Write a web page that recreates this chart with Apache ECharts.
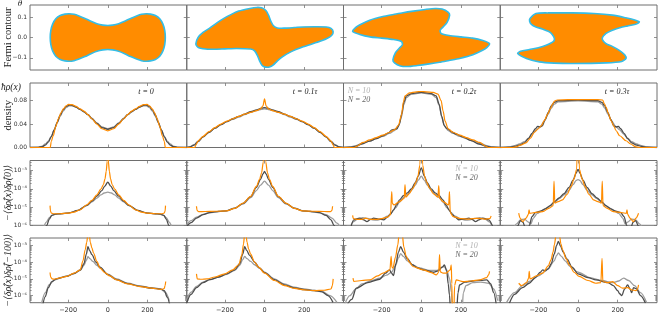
<!DOCTYPE html>
<html><head><meta charset="utf-8">
<script src="https://cdn.jsdelivr.net/npm/echarts@6/dist/echarts.min.js"></script>
<style>html,body{margin:0;padding:0;background:#fff}#c{width:659px;height:318px}</style>
</head><body><div id="c"></div><script>
// ---------------- tick labels ----------------
const xTicks = [-200, 0, 200];
const thetaTicks = [-0.1, 0, 0.1];
const densTicks = [0, 0.04, 0.08];
const logTicks = [-6, -5, -4, -3];
const logTickLabels = {'-6':'10⁻⁶','-5':'10⁻⁵','-4':'10⁻⁴','-3':'10⁻³'};
const timeLabels = ['t = 0', 't = 0.1τ', 't = 0.2τ', 't = 0.3τ'];
const rowTitles = ['Fermi contour', 'density', '−⟨δρ̂(x)δρ̂(0)⟩', '−⟨δρ̂(x)δρ̂(−100)⟩'];
const legendNames = ['N = 10', 'N = 20'];

// ---------------- row 1: Fermi contours [x, theta] ----------------
const contour1 = [[-290,0],[-287,0.035],[-278,0.066],[-262,0.092],[-240,0.108],[-215,0.115],[-195,0.117],[-170,0.114],[-145,0.106],[-115,0.094],[-85,0.080],[-55,0.068],[-25,0.061],[0,0.059],[25,0.061],[55,0.068],[85,0.080],[115,0.094],[145,0.106],[170,0.114],[195,0.117],[215,0.115],[240,0.108],[262,0.092],[278,0.066],[287,0.035],[290,0],[287,-0.035],[278,-0.066],[262,-0.092],[240,-0.108],[215,-0.115],[195,-0.117],[170,-0.114],[145,-0.106],[115,-0.094],[85,-0.080],[55,-0.068],[25,-0.061],[0,-0.059],[-25,-0.061],[-55,-0.068],[-85,-0.080],[-115,-0.094],[-145,-0.106],[-170,-0.114],[-195,-0.117],[-215,-0.115],[-240,-0.108],[-262,-0.092],[-278,-0.066],[-287,-0.035]];
const contour2 = [[-346,-0.03],[-335,0.0],[-310,0.025],[-275,0.047],[-240,0.072],[-205,0.094],[-175,0.11],[-130,0.13],[-74,0.143],[-40,0.148],[-15,0.146],[8,0.132],[20,0.11],[32,0.08],[45,0.058],[65,0.047],[100,0.046],[150,0.049],[193,0.052],[250,0.053],[312,0.052],[335,0.045],[346,0.028],[338,0.01],[312,-0.006],[260,-0.025],[195,-0.046],[130,-0.072],[90,-0.095],[65,-0.115],[43,-0.136],[25,-0.145],[5,-0.146],[-12,-0.138],[-25,-0.115],[-35,-0.09],[-50,-0.066],[-70,-0.057],[-141,-0.054],[-200,-0.056],[-259,-0.058],[-310,-0.055],[-334,-0.049],[-343,-0.04]];
const contour3 = [[-346,0.03],[-330,0.05],[-309,0.063],[-260,0.085],[-193,0.103],[-140,0.113],[-92,0.122],[-40,0.13],[20,0.138],[70,0.143],[105,0.14],[135,0.125],[143,0.11],[130,0.075],[110,0.052],[95,0.035],[100,0.02],[140,0.01],[200,0.003],[258,-0.003],[310,-0.015],[344,-0.03],[330,-0.05],[309,-0.063],[260,-0.085],[193,-0.103],[140,-0.113],[92,-0.122],[40,-0.13],[-20,-0.138],[-70,-0.143],[-105,-0.14],[-135,-0.125],[-143,-0.11],[-130,-0.075],[-110,-0.052],[-95,-0.035],[-100,-0.02],[-140,-0.01],[-200,-0.003],[-258,0.003],[-310,0.015]];
const contour4 = [[-242,0.094],[-212,0.118],[-150,0.121],[-29,0.121],[80,0.118],[173,0.110],[240,0.097],[290,0.085],[309,0.077],[290,0.065],[250,0.057],[223,0.052],[170,0.035],[141,0.020],[122,-0.005],[141,-0.030],[175,-0.045],[208,-0.063],[235,-0.085],[242,-0.103],[220,-0.118],[141,-0.125],[-29,-0.128],[-120,-0.126],[-195,-0.120],[-260,-0.103],[-304,-0.079],[-290,-0.068],[-245,-0.059],[-200,-0.05],[-161,-0.038],[-125,-0.02],[-119,-0.005],[-130,0.015],[-145,0.028],[-180,0.042],[-212,0.052],[-235,0.065],[-244,0.08]];

// ---------------- row 2: density [x, rho] ----------------
const dens1_exact = [[-392,0],[-300,0],[-290,0],[-285,0.010],[-275,0.020],[-262,0.036],[-249,0.049],[-236,0.059],[-224,0.066],[-210,0.071],[-198,0.0735],[-180,0.073],[-160,0.070],[-140,0.066],[-120,0.062],[-100,0.056],[-80,0.049],[-55,0.040],[-30,0.032],[0,0.0285],[30,0.032],[55,0.040],[80,0.049],[100,0.056],[120,0.062],[140,0.066],[160,0.070],[180,0.073],[198,0.0735],[210,0.071],[224,0.066],[236,0.059],[249,0.049],[262,0.036],[275,0.020],[285,0.010],[290,0],[300,0],[398,0]];
const dens1_n20 = [[-392,0],[-350,0.0003],[-330,0.0015],[-315,0.004],[-300,0.009],[-285,0.018],[-270,0.030],[-255,0.043],[-240,0.055],[-225,0.064],[-210,0.070],[-195,0.0725],[-180,0.072],[-160,0.069],[-140,0.065],[-120,0.061],[-100,0.056],[-80,0.049],[-55,0.041],[-30,0.034],[0,0.031],[30,0.034],[55,0.041],[80,0.049],[100,0.056],[120,0.061],[140,0.065],[160,0.069],[180,0.072],[195,0.0725],[210,0.070],[225,0.064],[240,0.055],[255,0.043],[270,0.030],[285,0.018],[300,0.009],[315,0.004],[330,0.0015],[350,0.0003],[398,0]];
const dens1_n10 = [[-392,0],[-350,0.0008],[-330,0.0025],[-315,0.006],[-300,0.011],[-285,0.019],[-270,0.030],[-255,0.042],[-240,0.053],[-225,0.062],[-210,0.068],[-195,0.071],[-180,0.071],[-160,0.069],[-140,0.065],[-120,0.061],[-100,0.056],[-80,0.050],[-55,0.042],[-30,0.035],[0,0.032],[30,0.035],[55,0.042],[80,0.050],[100,0.056],[120,0.061],[140,0.065],[160,0.069],[180,0.071],[195,0.071],[210,0.068],[225,0.062],[240,0.053],[255,0.042],[270,0.030],[285,0.019],[300,0.011],[315,0.006],[330,0.0025],[350,0.0008],[398,0]];

const dens2_exact = [[-392,0],[-352,0],[-346,0.004],[-335,0.011],[-310,0.019],[-280,0.027],[-250,0.034],[-220,0.040],[-190,0.045],[-160,0.049],[-130,0.053],[-100,0.057],[-70,0.060],[-40,0.063],[-20,0.066],[-8,0.071],[0,0.083],[8,0.071],[20,0.066],[40,0.063],[70,0.060],[100,0.057],[130,0.053],[160,0.049],[190,0.045],[220,0.040],[250,0.034],[280,0.027],[310,0.019],[335,0.011],[346,0.004],[352,0],[398,0]];
const dens2_n20 = [[-392,0],[-375,0.001],[-355,0.004],[-335,0.010],[-310,0.018],[-280,0.026],[-250,0.033],[-220,0.039],[-190,0.044],[-160,0.049],[-130,0.053],[-100,0.057],[-70,0.061],[-40,0.064],[-15,0.067],[0,0.068],[15,0.067],[40,0.064],[70,0.061],[100,0.057],[130,0.053],[160,0.049],[190,0.044],[220,0.039],[250,0.033],[280,0.026],[310,0.018],[335,0.010],[355,0.004],[375,0.001],[398,0]];
const dens2_n10 = [[-392,0.0003],[-375,0.0015],[-355,0.005],[-335,0.011],[-310,0.018],[-280,0.026],[-250,0.033],[-220,0.039],[-190,0.044],[-160,0.048],[-130,0.052],[-100,0.056],[-70,0.060],[-40,0.063],[-15,0.065],[0,0.066],[15,0.065],[40,0.063],[70,0.060],[100,0.056],[130,0.052],[160,0.048],[190,0.044],[220,0.039],[250,0.033],[280,0.026],[310,0.018],[335,0.011],[355,0.005],[375,0.0015],[398,0.0003]];

const dens3_exact = [[-392,0],[-340,0],[-325,0.002],[-294,0.0086],[-260,0.013],[-227,0.017],[-194,0.021],[-160,0.026],[-135,0.030],[-115,0.038],[-100,0.055],[-90,0.078],[-82,0.088],[-60,0.093],[-25,0.095],[0,0.0955],[25,0.095],[60,0.094],[84,0.091],[100,0.080],[110,0.062],[120,0.045],[135,0.032],[160,0.026],[194,0.021],[227,0.017],[260,0.013],[294,0.0086],[325,0.002],[340,0],[398,0]];
const dens3_n20 = [[-392,0],[-360,0.0005],[-330,0.002],[-300,0.006],[-260,0.011],[-227,0.015],[-194,0.020],[-165,0.025],[-148,0.030],[-135,0.031],[-122,0.032],[-110,0.040],[-98,0.058],[-88,0.077],[-75,0.088],[-50,0.092],[0,0.094],[50,0.092],[75,0.088],[90,0.074],[103,0.053],[115,0.038],[126,0.033],[138,0.031],[150,0.027],[175,0.023],[210,0.018],[250,0.012],[290,0.006],[330,0.002],[360,0.0005],[398,0]];
const dens3_n10 = [[-392,0],[-360,0.001],[-330,0.003],[-300,0.007],[-260,0.011],[-227,0.015],[-194,0.019],[-160,0.024],[-135,0.029],[-115,0.036],[-100,0.052],[-88,0.073],[-75,0.085],[-50,0.091],[0,0.093],[50,0.091],[75,0.085],[90,0.072],[103,0.052],[118,0.036],[135,0.029],[160,0.024],[194,0.019],[227,0.015],[260,0.011],[300,0.007],[330,0.003],[360,0.001],[398,0]];

const dens4_exact = [[-392,0],[-330,0],[-312,0.001],[-290,0.004],[-262,0.008],[-240,0.016],[-220,0.026],[-200,0.032],[-186,0.037],[-170,0.046],[-153,0.057],[-140,0.066],[-128,0.074],[-119,0.079],[-105,0.081],[-50,0.0815],[0,0.0815],[50,0.0815],[100,0.0815],[124,0.081],[132,0.075],[141,0.069],[153,0.058],[166,0.046],[180,0.037],[191,0.029],[210,0.020],[242,0.0115],[265,0.006],[292,0.001],[310,0],[398,0]];
const dens4_n20 = [[-392,0],[-345,0.0005],[-320,0.002],[-295,0.004],[-270,0.008],[-250,0.015],[-232,0.024],[-215,0.032],[-203,0.036],[-192,0.035],[-180,0.037],[-165,0.048],[-150,0.060],[-135,0.071],[-120,0.077],[-100,0.080],[0,0.081],[100,0.080],[120,0.077],[135,0.071],[150,0.060],[165,0.048],[180,0.037],[192,0.035],[203,0.036],[215,0.032],[232,0.024],[250,0.015],[270,0.008],[295,0.004],[320,0.002],[345,0.0005],[398,0]];
const dens4_n10 = [[-392,0],[-350,0.001],[-320,0.003],[-295,0.006],[-270,0.010],[-250,0.016],[-230,0.023],[-210,0.030],[-190,0.036],[-170,0.045],[-150,0.057],[-135,0.067],[-120,0.074],[-100,0.078],[0,0.0795],[100,0.078],[120,0.074],[135,0.067],[150,0.057],[170,0.045],[190,0.036],[210,0.030],[230,0.023],[250,0.016],[270,0.010],[295,0.006],[320,0.003],[350,0.001],[398,0]];

// ---------------- row 3: -<drho(x) drho(0)> [x, value] ----------------
const corr0_1_exact = [[-291,1.2e-5],[-289,6e-6],[-284,4.6e-6],[-270,4.3e-6],[-240,4.3e-6],[-200,4.6e-6],[-170,5.3e-6],[-140,7e-6],[-106,1.3e-5],[-80,2.3e-5],[-55,4.7e-5],[-35,9.5e-5],[-22,1.7e-4],[-14,3.5e-4],[-8,9e-4],[-3,3e-3],[0,1],[3,3e-3],[8,9e-4],[14,3.5e-4],[22,1.7e-4],[35,9.5e-5],[55,4.7e-5],[80,2.3e-5],[106,1.3e-5],[140,7e-6],[170,5.3e-6],[200,4.6e-6],[240,4.3e-6],[270,4.3e-6],[284,4.6e-6],[289,6e-6],[291,1.2e-5]];
const corr0_1_n20 = [[-340,2e-7],[-320,6e-7],[-307,1e-6],[-295,2.2e-6],[-282,3.5e-6],[-265,4.1e-6],[-240,4.3e-6],[-200,4.7e-6],[-150,6.5e-6],[-106,1.25e-5],[-80,2.1e-5],[-55,4e-5],[-30,8e-5],[-15,1.4e-4],[0,2.3e-4],[15,1.4e-4],[30,8e-5],[55,4e-5],[80,2.1e-5],[106,1.25e-5],[150,6.5e-6],[200,4.7e-6],[240,4.3e-6],[265,4.1e-6],[282,3.5e-6],[295,2.2e-6],[307,1e-6],[320,6e-7],[340,2e-7]];
const corr0_1_n10 = [[-345,3e-7],[-325,8e-7],[-310,1.5e-6],[-295,2.6e-6],[-280,3.6e-6],[-260,4.1e-6],[-230,4.3e-6],[-190,4.9e-6],[-150,6.5e-6],[-106,1.2e-5],[-80,1.9e-5],[-55,3.1e-5],[-35,4.6e-5],[-18,5.9e-5],[0,6.5e-5],[18,5.9e-5],[35,4.6e-5],[55,3.1e-5],[80,1.9e-5],[106,1.2e-5],[150,6.5e-6],[190,4.9e-6],[230,4.3e-6],[260,4.1e-6],[280,3.6e-6],[295,2.6e-6],[310,1.5e-6],[325,8e-7],[345,3e-7]];

const corr0_2_exact = [[-343,1.1e-5],[-340,6.5e-6],[-332,5.6e-6],[-300,5.7e-6],[-250,5.9e-6],[-192,6.2e-6],[-150,8.5e-6],[-108,1.65e-5],[-70,3.8e-5],[-41,1.35e-4],[-25,3.3e-4],[-15,7.4e-4],[-6,3e-3],[0,1],[6,3e-3],[15,7.4e-4],[25,3.3e-4],[41,1.35e-4],[70,3.8e-5],[108,1.65e-5],[150,8.5e-6],[192,6.2e-6],[250,5.9e-6],[300,5.7e-6],[332,5.6e-6],[340,6.5e-6],[343,1.1e-5]];
const corr0_2_n20 = [[-395,8e-7],[-370,1.4e-6],[-343,2.5e-6],[-310,3.8e-6],[-276,5e-6],[-230,5.8e-6],[-192,6.2e-6],[-150,8.8e-6],[-108,1.6e-5],[-70,3.7e-5],[-41,1.2e-4],[-20,3.3e-4],[-8,6.5e-4],[0,9e-4],[8,6.5e-4],[20,3.3e-4],[41,1.2e-4],[70,3.7e-5],[108,1.6e-5],[150,8.8e-6],[192,6.2e-6],[230,5.8e-6],[276,5e-6],[310,3.5e-6],[335,2e-6],[350,1e-6],[362,5e-7]];
const corr0_2_n10 = [[-395,1e-6],[-370,1.8e-6],[-343,2.8e-6],[-310,4e-6],[-276,5e-6],[-230,5.7e-6],[-192,6.2e-6],[-150,8.5e-6],[-108,1.5e-5],[-70,3.3e-5],[-41,8e-5],[-20,1.6e-4],[0,2.6e-4],[20,1.6e-4],[41,8e-5],[70,3.3e-5],[108,1.5e-5],[150,8.5e-6],[192,6.2e-6],[230,5.7e-6],[276,5e-6],[310,3.8e-6],[340,2.5e-6],[365,1.3e-6],[387,6e-7]];

const corr0_3_exact = [[-346,3.5e-6],[-342,2.3e-6],[-320,2.1e-6],[-300,2.1e-6],[-280,2.5e-6],[-260,2.1e-6],[-230,2.1e-6],[-200,2.3e-6],[-170,2.8e-6],[-155,3.8e-6],[-149,7e-5],[-146,1.6e-5],[-138,1.3e-5],[-110,2e-5],[-86,3e-5],[-82,1.7e-4],[-78,3.5e-5],[-60,5.5e-5],[-42,1.1e-4],[-25,2.5e-4],[-17,4.9e-4],[-7,2e-3],[0,1],[7,2e-3],[17,4.9e-4],[25,2.5e-4],[42,1.1e-4],[60,5.5e-5],[84,3.5e-5],[88,1.5e-4],[92,3e-5],[110,2e-5],[138,1.3e-5],[142,7e-5],[146,5e-6],[160,3e-6],[200,2.3e-6],[240,2.2e-6],[280,2.4e-6],[320,2.2e-6],[345,2.3e-6],[352,3.2e-6]];
const corr0_3_n20 = [[-355,8e-7],[-340,2e-6],[-311,2.5e-6],[-290,2e-6],[-274,1.6e-6],[-255,2.1e-6],[-240,2.5e-6],[-215,2.2e-6],[-190,2e-6],[-170,2.8e-6],[-155,4e-6],[-140,7e-6],[-125,1.3e-5],[-109,2.5e-5],[-90,4.2e-5],[-70,6e-5],[-50,1e-4],[-30,2.2e-4],[-15,5e-4],[0,1.4e-3],[15,5e-4],[30,2.2e-4],[50,1e-4],[70,6e-5],[90,4.2e-5],[109,2.5e-5],[125,1.3e-5],[140,7e-6],[155,4e-6],[170,2.8e-6],[190,2e-6],[215,2.2e-6],[240,2.5e-6],[255,2.1e-6],[274,1.6e-6],[290,2e-6],[311,2.5e-6],[340,2e-6],[361,8e-7]];
const corr0_3_n10 = [[-360,6e-7],[-345,1.5e-6],[-320,2.2e-6],[-295,2.6e-6],[-270,2.4e-6],[-245,2e-6],[-220,1.9e-6],[-195,2.3e-6],[-170,3.2e-6],[-150,5e-6],[-130,9e-6],[-110,1.8e-5],[-90,3.3e-5],[-70,5e-5],[-50,8e-5],[-30,1.6e-4],[-15,3e-4],[0,4.9e-4],[15,3e-4],[30,1.6e-4],[50,8e-5],[70,5e-5],[90,3.3e-5],[110,1.8e-5],[130,9e-6],[150,5e-6],[170,3.2e-6],[195,2.3e-6],[220,1.9e-6],[245,2e-6],[270,2.4e-6],[295,2.6e-6],[320,2.2e-6],[345,1.5e-6],[360,6e-7]];

const corr0_4_exact = [[-299,4.6e-6],[-292,2.5e-6],[-279,1.6e-6],[-262,2.5e-6],[-250,4e-6],[-247,7e-6],[-243,4.5e-6],[-220,5e-6],[-178,5.6e-6],[-145,8.7e-6],[-125,1.2e-5],[-121,2.6e-4],[-117,1.65e-5],[-100,2e-5],[-78,2.5e-5],[-55,5e-5],[-35,1.35e-4],[-20,3.5e-4],[-7,1.15e-3],[0,1],[7,1.15e-3],[20,3.5e-4],[35,1.35e-4],[55,5e-5],[78,2.5e-5],[100,2e-5],[118,1.65e-5],[122,2.6e-4],[126,1.2e-5],[145,8.7e-6],[178,5.6e-6],[220,5e-6],[243,4.5e-6],[247,7e-6],[250,4e-6],[262,2.5e-6],[279,1.6e-6],[292,2.5e-6],[305,4.6e-6]];
const corr0_4_n20 = [[-320,5e-7],[-305,9e-7],[-290,1.8e-6],[-278,1.5e-6],[-265,7e-7],[-255,4e-7],[-245,1e-6],[-232,3e-6],[-215,5e-6],[-190,6e-6],[-165,8e-6],[-140,1.2e-5],[-118,2e-5],[-95,3.2e-5],[-70,5.5e-5],[-45,1.2e-4],[-25,3e-4],[-10,7e-4],[0,1.15e-3],[10,7e-4],[25,3e-4],[45,1.2e-4],[70,5.5e-5],[95,3.2e-5],[118,2e-5],[140,1.2e-5],[165,8e-6],[190,6e-6],[215,5e-6],[232,3e-6],[245,1e-6],[255,4e-7],[265,7e-7],[278,1.5e-6],[290,1.8e-6],[305,9e-7],[320,5e-7]];
const corr0_4_n10 = [[-330,5e-7],[-310,1.2e-6],[-290,2e-6],[-270,2.2e-6],[-250,1.5e-6],[-238,1.2e-6],[-225,2.5e-6],[-205,4.5e-6],[-180,6.5e-6],[-150,1e-5],[-120,1.8e-5],[-95,2.9e-5],[-70,4.6e-5],[-45,8.5e-5],[-25,1.7e-4],[-10,2.8e-4],[0,3.2e-4],[10,2.8e-4],[25,1.7e-4],[45,8.5e-5],[70,4.6e-5],[95,2.9e-5],[120,1.8e-5],[150,1e-5],[180,6.5e-6],[205,4.5e-6],[225,2.5e-6],[238,1.2e-6],[250,1.5e-6],[270,2.2e-6],[290,2e-6],[310,1.2e-6],[330,5e-7]];

// ---------------- row 4: -<drho(x) drho(-100)> [x, value] ----------------
const corrM_1_exact = [[-291,2.4e-5],[-288,1.3e-5],[-280,1e-5],[-270,9.6e-6],[-240,1.15e-5],[-207,1.4e-5],[-170,2.2e-5],[-139,3.5e-5],[-125,1.2e-4],[-114,5.5e-4],[-106,1.5e-3],[-100,5e-3],[-97,1],[-94,5e-3],[-88,1.5e-3],[-80,7e-4],[-72,3.5e-4],[-55,1.1e-4],[-39,4.4e-5],[-15,2.4e-5],[10,1.5e-5],[45,8.7e-6],[100,5e-6],[163,3.5e-6],[220,2.8e-6],[270,2.4e-6],[284,2.6e-6],[289,4e-6],[292,7e-6]];
const corrM_1_n20 = [[-330,2e-7],[-315,8.7e-7],[-300,3e-6],[-282,6.9e-6],[-260,1e-5],[-207,1.4e-5],[-170,2.1e-5],[-139,3.4e-5],[-120,8e-5],[-108,3e-4],[-100,8.5e-4],[-92,5e-4],[-80,2.8e-4],[-60,1e-4],[-39,5e-5],[0,1.8e-5],[45,9e-6],[100,5.2e-6],[163,3.6e-6],[220,2.8e-6],[270,2.4e-6],[285,2e-6],[300,8e-7],[315,2e-7]];
const corrM_1_n10 = [[-335,3e-7],[-315,1.5e-6],[-295,4.5e-6],[-270,8.5e-6],[-240,1.2e-5],[-207,1.5e-5],[-170,2.1e-5],[-139,3.2e-5],[-120,6.5e-5],[-108,1.3e-4],[-100,2.1e-4],[-90,1.6e-4],[-75,1.1e-4],[-55,6.5e-5],[-39,4.5e-5],[0,1.9e-5],[45,1e-5],[100,5.6e-6],[163,3.8e-6],[220,3e-6],[265,2.6e-6],[290,1.6e-6],[310,5e-7]];

const corrM_2_exact = [[-343,2e-5],[-339,1e-5],[-320,9.5e-6],[-290,1e-5],[-250,1.3e-5],[-200,2e-5],[-160,3.5e-5],[-130,7e-5],[-115,2.5e-4],[-106,1.2e-3],[-100,5e-3],[-97,1],[-94,5e-3],[-88,1.5e-3],[-80,6e-4],[-70,3e-4],[-50,1e-4],[-30,5e-5],[0,2.2e-5],[50,8e-6],[100,4e-6],[150,2.7e-6],[200,2.2e-6],[250,2e-6],[300,2.1e-6],[335,2.5e-6],[342,4e-6],[346,1e-5]];
const corrM_2_n20 = [[-395,3e-7],[-370,1.2e-6],[-343,3e-6],[-310,6e-6],[-276,9e-6],[-230,1.3e-5],[-190,2e-5],[-150,3.5e-5],[-125,8e-5],[-110,3e-4],[-100,8.5e-4],[-90,5e-4],[-75,2.5e-4],[-50,1e-4],[-25,4.5e-5],[0,2.4e-5],[50,9e-6],[100,4.4e-6],[150,2.9e-6],[200,2.3e-6],[250,2e-6],[290,1.7e-6],[320,1e-6],[345,4e-7]];
const corrM_2_n10 = [[-395,5e-7],[-370,1.6e-6],[-343,3.6e-6],[-310,6.5e-6],[-276,9e-6],[-230,1.3e-5],[-190,1.9e-5],[-150,3.2e-5],[-125,6.5e-5],[-110,1.4e-4],[-100,2.2e-4],[-88,1.6e-4],[-70,1.1e-4],[-50,7e-5],[-25,4.2e-5],[0,2.5e-5],[50,1e-5],[100,5e-6],[150,3.2e-6],[200,2.5e-6],[250,2.1e-6],[290,1.8e-6],[330,1e-6],[365,4e-7]];

const corrM_3_exact = [[-344,1.1e-5],[-340,7e-6],[-300,8e-6],[-260,8.7e-6],[-220,1.5e-5],[-193,2.2e-5],[-158,3.5e-5],[-152,2.2e-4],[-148,5e-5],[-143,4.4e-5],[-130,2e-4],[-118,1.1e-3],[-112,5e-3],[-104,1],[-96,5e-3],[-88,8e-4],[-76,2.2e-4],[-60,1e-4],[-42,5.5e-5],[8,3.5e-5],[50,2.4e-5],[76,1.75e-5],[88,2.5e-5],[92,2.8e-4],[96,2.6e-5],[110,2.2e-5],[126,2.2e-5],[146,3.5e-5],[151,7e-5],[154,5e-6],[157,1e-7],[164,1e-7],[168,4e-6],[176,8.7e-6],[210,6.9e-6],[250,7.5e-6],[294,8.7e-6],[330,1.2e-5],[340,1.8e-5],[344,2.8e-5]];
const corrM_3_n20 = [[-392,1e-7],[-350,6e-7],[-328,2.8e-6],[-270,6e-6],[-210,9.5e-6],[-180,2.2e-5],[-160,3.5e-5],[-150,2.2e-5],[-140,1.6e-5],[-128,8e-5],[-115,4e-4],[-104,8.5e-4],[-90,4e-4],[-70,1.6e-4],[-45,7e-5],[-20,4.5e-5],[20,3.3e-5],[60,2.5e-5],[85,3e-5],[105,5e-5],[117,6.9e-5],[128,3e-5],[136,5e-6],[142,1.1e-6],[148,1e-7],[178,1e-7],[185,1.5e-6],[193,4.4e-6],[220,6.5e-6],[260,7.5e-6],[300,8.2e-6],[330,8.7e-6],[350,5e-6],[365,1.5e-6],[380,2e-7]];
const corrM_3_n10 = [[-392,2e-7],[-360,1e-6],[-330,2.5e-6],[-300,5e-6],[-250,8e-6],[-210,1.1e-5],[-175,1.7e-5],[-150,2.5e-5],[-130,6e-5],[-115,1.8e-4],[-104,3.2e-4],[-90,2.2e-4],[-70,1.2e-4],[-45,7e-5],[-10,4.5e-5],[40,3.2e-5],[80,3.2e-5],[105,5e-5],[115,5.5e-5],[128,3.5e-5],[143,1e-5],[152,1.5e-6],[158,1e-7],[205,1e-7],[212,1.5e-6],[225,4e-6],[260,6e-6],[300,6.5e-6],[340,5.5e-6],[365,2.5e-6],[385,5e-7]];

const corrM_4_exact = [[-299,5.5e-6],[-285,4e-6],[-260,6e-6],[-249,1.1e-5],[-246,2.8e-5],[-242,1e-5],[-210,1.5e-5],[-178,2.2e-5],[-150,6e-5],[-136,1.4e-4],[-126,4e-4],[-119,1.1e-3],[-110,5e-3],[-102,1],[-95,5e-3],[-86,1.2e-3],[-78,5.5e-4],[-60,1.6e-4],[-44,6.9e-5],[-20,2.5e-5],[6,1.4e-5],[50,8e-6],[90,5.5e-6],[115,6e-6],[121,1.7e-4],[125,7e-6],[150,6e-6],[174,6.9e-6],[200,4e-6],[224,2.8e-6],[250,3e-6],[270,2.2e-6],[292,2e-6],[300,2.5e-6],[305,4.4e-6]];
const corrM_4_n20 = [[-346,3.5e-7],[-320,1.2e-6],[-280,3e-6],[-246,5.5e-6],[-215,1.2e-5],[-190,2.5e-5],[-178,3.5e-5],[-165,3e-5],[-150,4e-5],[-135,8e-5],[-120,3e-4],[-108,1e-3],[-99,1.7e-3],[-88,9e-4],[-75,4e-4],[-55,1.5e-4],[-30,5e-5],[0,2e-5],[50,1.2e-5],[90,8.7e-6],[150,6e-6],[178,4e-6],[200,2e-6],[210,1.3e-6],[220,1e-6],[235,2.5e-6],[250,4.4e-6],[262,2.5e-6],[270,1.5e-6],[280,3e-6],[295,2.5e-6],[315,1e-6],[340,3.5e-7]];
const corrM_4_n10 = [[-360,4e-7],[-320,1.5e-6],[-280,4e-6],[-246,7e-6],[-200,1.5e-5],[-150,4e-5],[-120,1.2e-4],[-108,2.5e-4],[-99,3.5e-4],[-85,2.3e-4],[-65,1.2e-4],[-40,5.5e-5],[0,2.5e-5],[60,1.2e-5],[120,8e-6],[175,6e-6],[205,7.5e-6],[230,1.1e-5],[255,8e-6],[285,4e-6],[315,1.5e-6],[345,4e-7]];

// ---------------- assembly ----------------
const contours = [contour1, contour2, contour3, contour4];
const rowsData = [
  null,
  [[dens1_n10,dens1_n20,dens1_exact],[dens2_n10,dens2_n20,dens2_exact],[dens3_n10,dens3_n20,dens3_exact],[dens4_n10,dens4_n20,dens4_exact]],
  [[corr0_1_n10,corr0_1_n20,corr0_1_exact],[corr0_2_n10,corr0_2_n20,corr0_2_exact],[corr0_3_n10,corr0_3_n20,corr0_3_exact],[corr0_4_n10,corr0_4_n20,corr0_4_exact]],
  [[corrM_1_n10,corrM_1_n20,corrM_1_exact],[corrM_2_n10,corrM_2_n20,corrM_2_exact],[corrM_3_n10,corrM_3_n20,corrM_3_exact],[corrM_4_n10,corrM_4_n20,corrM_4_exact]]
];

const ORANGE = '#ff8c00', EDGE = '#35bde6', DARK = '#4d4d4d', LIGHT = '#9c9c9c', FRAME = '#6e6e6e';
const X_MIN = -392, X_MAX = 398;
const colW = 156.75, left0 = 30;
const rowTop = [5, 83, 160.5, 238], rowH = [65, 64.5, 64.8, 64.7];
const yMin = [-0.16, 0, -6, -6.42], yMax = [0.16, 0.11, -2.45, -2.56];
const yTickVals = [thetaTicks, densTicks, logTicks, logTicks];
const yFmt = [
  v => (Math.abs(v) < 1e-9 ? '0.0' : v.toFixed(1).replace('-', '−')),
  v => v.toFixed(2),
  v => logTickLabels[String(Math.round(v))],
  v => logTickLabels[String(Math.round(v))]
];
const minorLog = [];
for (let e = -7; e <= -3; e++) for (let k = 2; k <= 9; k++) minorLog.push(e + Math.log10(k));

const grids = [], xAxes = [], yAxes = [], series = [];
const tickStyle = {color: '#777', width: 0.8};
const noLine = {show: false, onZero: false};
for (let r = 0; r < 4; r++) for (let c = 0; c < 4; c++) {
  const gi = r * 4 + c;
  grids.push({left: left0 + c * colW, top: rowTop[r], width: colW, height: rowH[r], show: true,
    borderColor: FRAME, borderWidth: 1, backgroundColor: 'rgba(0,0,0,0)'});
  xAxes.push({type: 'value', gridIndex: gi, min: X_MIN, max: X_MAX, position: 'bottom',
    axisLine: noLine, splitLine: {show: false},
    axisTick: {show: true, inside: true, length: 3, customValues: xTicks, lineStyle: tickStyle},
    axisLabel: {show: r === 3, customValues: xTicks, fontSize: 6.5, color: '#333', margin: 4,
      fontFamily: 'DejaVu Sans', formatter: v => String(v).replace('-', '−')}});
  yAxes.push({type: 'value', gridIndex: gi, min: yMin[r], max: yMax[r], position: 'left',
    axisLine: noLine, splitLine: {show: false},
    axisTick: {show: true, inside: true, length: 3, customValues: yTickVals[r], lineStyle: tickStyle},
    axisLabel: {show: c === 0, customValues: yTickVals[r], fontSize: 6, color: '#333', margin: 3,
      fontFamily: 'DejaVu Sans', formatter: yFmt[r]}});
}
for (let gi = 0; gi < 16; gi++) {
  const r = Math.floor(gi / 4);
  xAxes.push({type: 'value', gridIndex: gi, min: X_MIN, max: X_MAX, position: 'top',
    axisLine: noLine, splitLine: {show: false}, axisLabel: {show: false},
    axisTick: {show: true, inside: true, length: 3, customValues: xTicks, lineStyle: tickStyle}});
  yAxes.push({type: 'value', gridIndex: gi, min: yMin[r], max: yMax[r], position: 'right',
    axisLine: noLine, splitLine: {show: false}, axisLabel: {show: false},
    axisTick: {show: true, inside: true, length: 3, customValues: yTickVals[r], lineStyle: tickStyle}});
  if (r >= 2) {
    const mv = minorLog.filter(v => v > yMin[r] && v < yMax[r]);
    ['left', 'right'].forEach(pos => yAxes.push({type: 'value', gridIndex: gi, min: yMin[r], max: yMax[r], position: pos,
      axisLine: noLine, splitLine: {show: false}, axisLabel: {show: false},
      axisTick: {show: true, inside: true, length: 1.6, customValues: mv, lineStyle: tickStyle}}));
  }
}

// Fermi contours
contours.forEach((pts, c) => {
  series.push({type: 'custom', coordinateSystem: 'cartesian2d', xAxisIndex: c, yAxisIndex: c,
    data: [[0, 0]], silent: true, animation: false,
    renderItem: (params, api) => ({type: 'polygon',
      shape: {points: pts.map(p => api.coord([p[0], p[1]])), smooth: 0.25},
      style: {fill: ORANGE, stroke: EDGE, lineWidth: 1.6}})});
});
// curves
const colors = [LIGHT, DARK, ORANGE];
for (let r = 1; r < 4; r++) for (let c = 0; c < 4; c++) {
  const gi = r * 4 + c;
  rowsData[r][c].forEach((arr, k) => {
    series.push({type: 'line', xAxisIndex: gi, yAxisIndex: gi, showSymbol: false, symbol: 'none',
      smooth: 0.3, smoothMonotone: 'x', silent: true, animation: false, clip: true,
      lineStyle: {color: colors[k], width: k === 2 ? 1.2 : 1.3},
      data: arr.map(p => [p[0], r >= 2 ? Math.log10(p[1]) : p[1]])});
  });
}

// texts
const graphic = [];
const serif = '"Liberation Serif","DejaVu Serif",serif';
const rowMid = r => rowTop[r] + rowH[r] / 2;
rowTitles.forEach((t, r) => graphic.push({type: 'text', x: 8, y: rowMid(r), rotation: Math.PI / 2,
  style: {text: t, textAlign: 'center', textVerticalAlign: 'middle',
    font: (r >= 2 ? 'italic 10px ' : '10.5px ') + serif, fill: '#222'}}));
graphic.push({type: 'text', x: 20, y: 4, style: {text: 'θ', textAlign: 'center', textVerticalAlign: 'middle', font: 'italic 9px ' + serif, fill: '#222'}});
graphic.push({type: 'text', x: 1, y: 87, style: {text: 'ħρ(x)', textAlign: 'left', textVerticalAlign: 'middle', font: 'italic 9.5px ' + serif, fill: '#222'}});
const tPos = [[146, 91.5], [305, 91.5], [464, 91.5], [617, 92]];
timeLabels.forEach((t, c) => graphic.push({type: 'text', x: tPos[c][0], y: tPos[c][1],
  style: {text: t, textAlign: 'center', textVerticalAlign: 'middle', font: 'italic 8px ' + serif, fill: '#222'}}));
const legPos = [[359, 90.5, 99.5], [466.5, 169.3, 178.3], [466.5, 246, 255]];
legPos.forEach(p => {
  graphic.push({type: 'text', x: p[0], y: p[1], style: {text: legendNames[0], textAlign: 'center', textVerticalAlign: 'middle', font: 'italic 8px ' + serif, fill: '#b0b0b0'}});
  graphic.push({type: 'text', x: p[0], y: p[2], style: {text: legendNames[1], textAlign: 'center', textVerticalAlign: 'middle', font: 'italic 8px ' + serif, fill: '#666'}});
});

const chart = echarts.init(document.getElementById('c'), null, {renderer: 'canvas'});
chart.setOption({animation: false, backgroundColor: '#fff', grid: grids, xAxis: xAxes, yAxis: yAxes, series: series, graphic: graphic});
</script></body></html>
